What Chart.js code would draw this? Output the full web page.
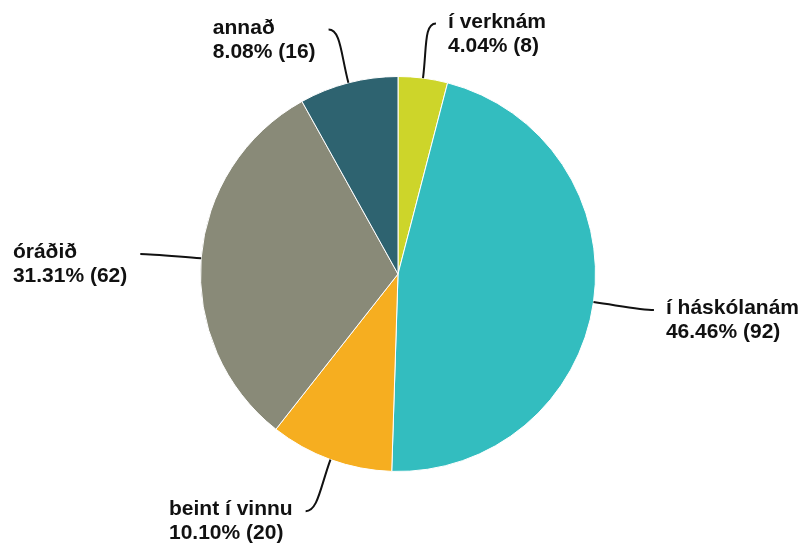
<!DOCTYPE html>
<html lang="is">
<head>
<meta charset="UTF-8" />
<title>pie</title>
<script src="https://cdn.jsdelivr.net/npm/chart.js"></script>
<style>
  body, html {
    margin: 0; padding: 0;
    background: #ffffff;
  }
</style>
</head>
<body>
<canvas id="pieChart" width="802" height="546"></canvas>
<script>
  const labels = ['í verknám', 'í háskólanám', 'beint í vinnu', 'óráðið', 'annað'];
  const counts = [8, 92, 20, 62, 16];
  const colors = ['#cdd52a', '#33bdbf', '#f6ae20', '#898a78', '#2e6370'];

  const total = counts.reduce((a, b) => a + b, 0);

  // draws the curved leader lines and the two-line labels
  const leaderLabels = {
    id: 'leaderLabels',
    afterDraw(chart) {
      const ctx = chart.ctx;
      const arcs = chart.getDatasetMeta(0).data;
      ctx.save();
      ctx.font = 'bold 21px "Liberation Sans", Arial, sans-serif';
      ctx.fillStyle = '#111';
      ctx.strokeStyle = '#111';
      ctx.lineWidth = 2;
      arcs.forEach((arc, i) => {
        const mid = (arc.startAngle + arc.endAngle) / 2;
        const dx = Math.cos(mid), dy = Math.sin(mid);
        const side = dx >= 0 ? 1 : -1;
        const sx = arc.x + dx * arc.outerRadius;
        const sy = arc.y + dy * arc.outerRadius;
        const ex = sx + dx * 55 + side * 6;
        const ey = sy + dy * 55;
        ctx.beginPath();
        ctx.moveTo(sx, sy);
        ctx.bezierCurveTo(sx + dx * 30, sy + dy * 30, ex - side * 12, ey, ex, ey);
        ctx.stroke();

        const pct = (counts[i] / total * 100).toFixed(2);
        const lines = [labels[i], pct + '% (' + counts[i] + ')'];
        const w = Math.max(...lines.map(t => ctx.measureText(t).width));
        const tx = side > 0 ? ex + 12 : ex - 13 - w;
        ctx.textAlign = 'left';
        ctx.textBaseline = 'alphabetic';
        lines.forEach((t, j) => ctx.fillText(t, tx, ey + 4 + j * 24));
      });
      ctx.restore();
    }
  };

  new Chart(document.getElementById('pieChart'), {
    type: 'pie',
    data: {
      labels: labels,
      datasets: [{
        data: counts,
        backgroundColor: colors,
        borderColor: '#ffffff',
        borderWidth: 1
      }]
    },
    options: {
      responsive: false,
      animation: false,
      layout: { padding: { top: 76, bottom: 74, left: 0, right: 6 } },
      plugins: {
        legend: { display: false },
        tooltip: { enabled: false }
      }
    },
    plugins: [leaderLabels]
  });
</script>
</body>
</html>
